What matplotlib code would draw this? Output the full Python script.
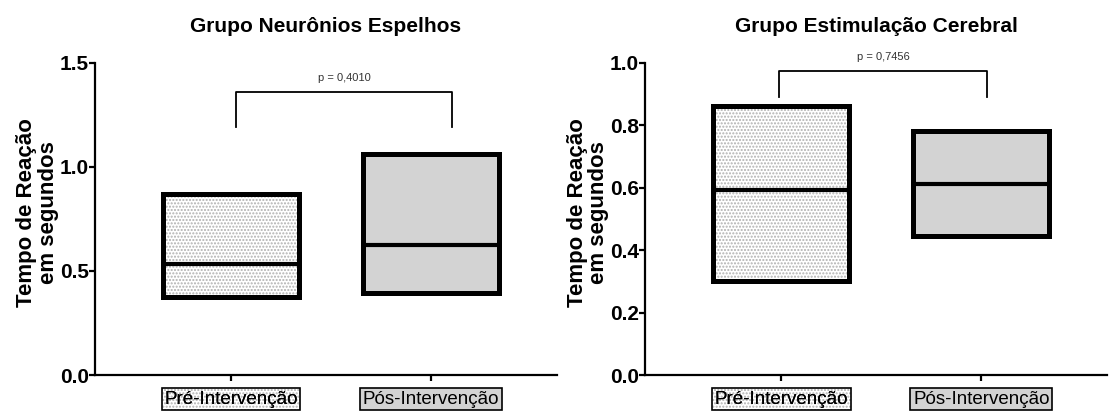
import numpy as np
import matplotlib
matplotlib.use("Agg")
import matplotlib.pyplot as plt

plt.rcParams['font.family'] = ['Liberation Sans', 'DejaVu Sans']
plt.rcParams['hatch.linewidth'] = 1.0

grupos = ['Pré-Intervenção', 'Pós-Intervenção']

# painel 1 - neuronios espelhos (min, mediana, max)
ne_min = [0.375, 0.394]
ne_med = [0.533, 0.624]
ne_max = [0.872, 1.061]
ne_p = 'p = 0,4010'

# painel 2 - estimulacao cerebral
ec_min = [0.301, 0.445]
ec_med = [0.592, 0.611]
ec_max = [0.861, 0.780]
ec_p = 'p = 0,7456'

titulos = ['Grupo Neurônios Espelhos', 'Grupo Estimulação Cerebral']


def painel(ax, mins, meds, maxs, ptxt, titulo, ymax, yticks, brk):
    x = np.arange(len(grupos))
    w = 0.68
    alturas = np.array(maxs) - np.array(mins)
    # fundo pontilhado do pre
    ax.bar(x[0], alturas[0], bottom=mins[0], width=w, color='white',
           edgecolor='#b0b0b0', hatch='.....', linewidth=0, zorder=2)
    ax.bar(x[1], alturas[1], bottom=mins[1], width=w, color='#d3d3d3',
           linewidth=0, zorder=2)
    ax.bar(x, alturas, bottom=mins, width=w, fill=False, edgecolor='black',
           linewidth=3.6, zorder=3)
    for i in range(len(x)):
        ax.plot([x[i] - w / 2, x[i] + w / 2], [meds[i], meds[i]], color='black',
                lw=3.0, zorder=4, solid_capstyle='butt')

    # barra de significancia
    x0, x1, ytop, ybot = brk
    ax.plot([x0, x0, x1, x1], [ybot, ytop, ytop, ybot], color='black', lw=1.3,
            zorder=3)
    ax.text((x0 + x1) / 2, ytop + (ymax * 0.045), ptxt, ha='center',
            va='center', fontsize=8, color='#333333')

    ax.set_xlim(-0.68, 1.63)
    ax.set_ylim(0, ymax)
    ax.set_yticks(yticks)
    ax.set_yticklabels(['%.1f' % t for t in yticks], fontweight='bold', fontsize=15)
    ax.set_xticks(x)
    ax.set_xticklabels([])
    ax.spines['top'].set_visible(False)
    ax.spines['right'].set_visible(False)
    ax.spines['left'].set_linewidth(1.6)
    ax.spines['bottom'].set_linewidth(1.6)
    ax.tick_params(axis='both', width=1.6, length=4, pad=0.5)
    ax.set_ylabel('Tempo de Reação\nem segundos', fontweight='bold',
                  fontsize=16, linespacing=1.05)
    ax.yaxis.set_label_coords(-0.078, 0.52)
    ax.set_title(titulo, fontweight='bold', fontsize=15, pad=22)

    # rotulos em caixas
    tr = ax.get_xaxis_transform()
    ax.text(x[0], -0.077, grupos[0], transform=tr, ha='center', va='center',
            fontsize=13.5, clip_on=False,
            bbox=dict(boxstyle='square,pad=0.14', facecolor='white',
                      edgecolor='#b0b0b0', hatch='.....', linewidth=0))
    ax.text(x[0], -0.077, grupos[0], transform=tr, ha='center', va='center',
            fontsize=13.5, clip_on=False,
            bbox=dict(boxstyle='square,pad=0.14', fill=False,
                      edgecolor='black', linewidth=1.2))
    ax.text(x[1], -0.077, grupos[1], transform=tr, ha='center', va='center',
            fontsize=13.5, clip_on=False,
            bbox=dict(boxstyle='square,pad=0.14', facecolor='#d3d3d3',
                      edgecolor='black', linewidth=1.2))


fig = plt.figure(figsize=(11.1, 4.2), dpi=100)
ax1 = fig.add_axes([0.0856, 0.107, 0.416, 0.7436])
ax2 = fig.add_axes([0.5815, 0.107, 0.416, 0.7436])

painel(ax1, ne_min, ne_med, ne_max, ne_p, titulos[0], 1.5,
       [0.0, 0.5, 1.0, 1.5], (0.025, 1.105, 1.36, 1.19))
painel(ax2, ec_min, ec_med, ec_max, ec_p, titulos[1], 1.0,
       [0.0, 0.2, 0.4, 0.6, 0.8, 1.0], (-0.01, 1.03, 0.975, 0.89))

fig.savefig('out.png', dpi=100)
